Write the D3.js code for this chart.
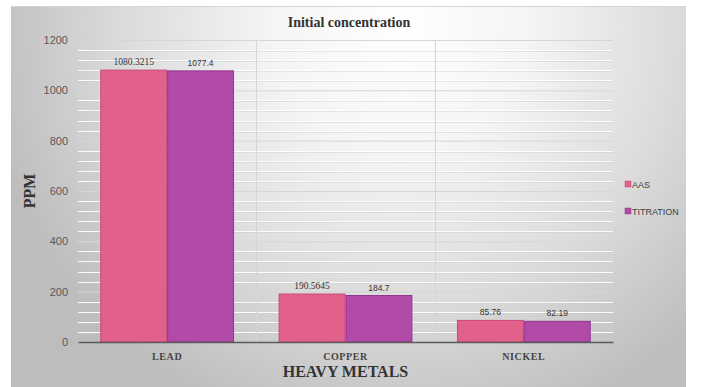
<!DOCTYPE html>
<html>
<head>
<meta charset="utf-8">
<script src="https://cdn.jsdelivr.net/npm/d3@7"></script>
<style>
  html, body { margin: 0; padding: 0; background: #ffffff; }
  svg { display: block; }
</style>
</head>
<body>
<svg id="chart" width="702" height="387"></svg>
<script>
// Heavy metal concentrations (ppm) measured by two methods
const categories = ["LEAD", "COPPER", "NICKEL"];
const seriesNames = ["AAS", "TITRATION"];
const aasValues = [1080.3215, 190.5645, 85.76];
const titrationValues = [1077.4, 184.7, 82.19];
const yTicks = [0, 200, 400, 600, 800, 1000, 1200];

const chartTitle = "Initial concentration";
const xTitle = "HEAVY METALS";
const yTitle = "PPM";

const colors = { AAS: "#e2618a", TITRATION: "#b24ba8" };
const borders = { AAS: "#c8477a", TITRATION: "#8f338c" };

const svg = d3.select("#chart");

// Chart background: soft radial sheen
const defs = svg.append("defs");
const grad = defs.append("radialGradient")
  .attr("id", "bgGrad")
  .attr("gradientUnits", "userSpaceOnUse")
  .attr("cx", 400).attr("cy", 30).attr("r", 420)
  .attr("fx", 400).attr("fy", 20);
grad.append("stop").attr("offset", "0%").attr("stop-color", "#ffffff");
grad.append("stop").attr("offset", "30%").attr("stop-color", "#f5f5f5");
grad.append("stop").attr("offset", "65%").attr("stop-color", "#dcdcdc");
grad.append("stop").attr("offset", "100%").attr("stop-color", "#bdbdbd");

svg.append("rect")
  .attr("x", 11).attr("y", 6).attr("width", 675).attr("height", 381)
  .attr("fill", "url(#bgGrad)");
svg.append("line")
  .attr("x1", 11).attr("x2", 686).attr("y1", 6.5).attr("y2", 6.5)
  .attr("stroke", "#d4d4d4").attr("stroke-width", 1);

const plot = { left: 78, right: 613, top: 40, bottom: 342 };

const x0 = d3.scaleBand().domain(categories).range([plot.left, plot.right])
  .paddingInner(0).paddingOuter(0);
const groupPad = 0.125;
const x1 = d3.scaleBand().domain(seriesNames)
  .range([x0.bandwidth() * groupPad, x0.bandwidth() * (1 - groupPad)])
  .paddingInner(0);
const y = d3.scaleLinear().domain([0, 1200]).range([plot.bottom, plot.top]);

// Minor gridlines (every 40 ppm), drawn as light embossed lines
const minorTicks = d3.range(40, 1200, 40).filter(v => v % 200 !== 0);
const minor = svg.append("g");
minor.selectAll("line.shade").data(minorTicks).join("line")
  .attr("x1", plot.left).attr("x2", plot.right)
  .attr("y1", d => Math.round(y(d)) + 1.5).attr("y2", d => Math.round(y(d)) + 1.5)
  .attr("stroke", "#c8c8c8").attr("stroke-opacity", 0.4);
minor.selectAll("line.hi").data(minorTicks).join("line")
  .attr("x1", plot.left).attr("x2", plot.right)
  .attr("y1", d => Math.round(y(d)) + 0.5).attr("y2", d => Math.round(y(d)) + 0.5)
  .attr("stroke", "#ffffff").attr("stroke-opacity", 0.9);

// Major gridlines via the y axis
const yAxis = svg.append("g")
  .attr("transform", `translate(${plot.left},0)`)
  .call(d3.axisLeft(y).tickValues(yTicks).tickFormat(d3.format("d"))
    .tickSize(-(plot.right - plot.left)).tickPadding(10));
yAxis.select(".domain").remove();
yAxis.selectAll(".tick line").attr("stroke", "#d6d6d6").attr("stroke-width", 1);
yAxis.selectAll(".tick text")
  .attr("fill", "#595959")
  .style("font-family", "'Liberation Sans', Arial, sans-serif")
  .style("font-size", "11px");

// Vertical dividers between categories
svg.append("g").selectAll("line").data(categories.slice(1)).join("line")
  .attr("x1", d => Math.round(x0(d)) + 0.5).attr("x2", d => Math.round(x0(d)) + 0.5)
  .attr("y1", plot.top).attr("y2", plot.bottom)
  .attr("stroke", "#d6d6d6");

// Bars
const rows = categories.map((c, i) => ({
  category: c,
  values: [
    { series: "AAS", value: aasValues[i] },
    { series: "TITRATION", value: titrationValues[i] }
  ]
}));

const groups = svg.append("g").selectAll("g").data(rows).join("g")
  .attr("transform", d => `translate(${x0(d.category)},0)`);

groups.selectAll("rect").data(d => d.values).join("rect")
  .attr("x", d => x1(d.series) + 0.5)
  .attr("y", d => y(d.value))
  .attr("width", x1.bandwidth() - 1)
  .attr("height", d => y(0) - y(d.value))
  .attr("fill", d => colors[d.series])
  .attr("stroke", d => borders[d.series])
  .attr("stroke-width", 1);

// Value labels
const isLong = v => (String(v).split(".")[1] || "").length >= 4;
groups.selectAll("text").data(d => d.values).join("text")
  .attr("x", d => x1(d.series) + x1.bandwidth() / 2)
  .attr("y", d => y(d.value) - 5)
  .attr("text-anchor", "middle")
  .attr("fill", "#333333")
  .style("font-family", d => isLong(d.value)
    ? "'Liberation Serif', 'Times New Roman', serif"
    : "'Liberation Sans', Arial, sans-serif")
  .style("font-size", d => isLong(d.value) ? "9.5px" : "8.5px")
  .text(d => String(d.value));

// Baseline axis
const xAxis = svg.append("g")
  .attr("transform", `translate(0,${plot.bottom})`)
  .call(d3.axisBottom(x0).tickSize(0).tickPadding(11));
xAxis.select(".domain").attr("stroke", "#5a5a5a").attr("stroke-width", 1.3);
xAxis.selectAll(".tick text")
  .attr("fill", "#444444")
  .style("font-family", "'Liberation Serif', 'Times New Roman', serif")
  .style("font-weight", "bold")
  .style("font-size", "10px")
  .style("letter-spacing", "0.6px");

// Titles
svg.append("text")
  .attr("x", 349).attr("y", 27)
  .attr("text-anchor", "middle")
  .attr("fill", "#333333")
  .style("font-family", "'Liberation Serif', 'Times New Roman', serif")
  .style("font-weight", "bold")
  .style("font-size", "14px")
  .text(chartTitle);

svg.append("text")
  .attr("x", (plot.left + plot.right) / 2).attr("y", 377)
  .attr("text-anchor", "middle")
  .attr("fill", "#333333")
  .style("font-family", "'Liberation Serif', 'Times New Roman', serif")
  .style("font-weight", "bold")
  .style("font-size", "16px")
  .text(xTitle);

svg.append("text")
  .attr("transform", `translate(35,${(plot.top + plot.bottom) / 2}) rotate(-90)`)
  .attr("text-anchor", "middle")
  .attr("fill", "#333333")
  .style("font-family", "'Liberation Serif', 'Times New Roman', serif")
  .style("font-weight", "bold")
  .style("font-size", "16px")
  .text(yTitle);

// Legend
const legend = svg.append("g").attr("transform", "translate(625,181)");
const items = legend.selectAll("g").data(seriesNames).join("g")
  .attr("transform", (d, i) => `translate(0,${i * 27})`);
items.append("rect")
  .attr("width", 6).attr("height", 6)
  .attr("fill", d => colors[d])
  .attr("stroke", d => borders[d]).attr("stroke-width", 0.5);
items.append("text")
  .attr("x", 7).attr("y", 6.5)
  .attr("fill", "#404040")
  .style("font-family", "'Liberation Sans', Arial, sans-serif")
  .style("font-size", "9px")
  .text(d => d);
</script>
</body>
</html>
